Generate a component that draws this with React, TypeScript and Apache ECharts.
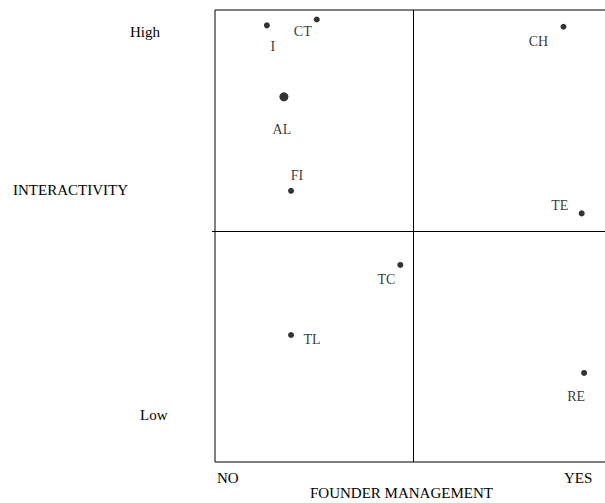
import React, { useEffect, useRef } from "react";
import * as echarts from "echarts";

// Data (x: founder management 0=NO..100=YES, y: interactivity 0=Low..100=High)
const names = ["I", "CT", "CH", "AL", "FI", "TE", "TC", "TL", "RE"];
const xValues = [13.1, 25.7, 88.0, 17.4, 19.2, 92.6, 46.8, 19.2, 93.2];
const yValues = [96.6, 97.9, 96.3, 80.8, 60.0, 55.0, 43.6, 28.1, 19.7];
const emphasized = ["AL"];

const xDivider = 50;
const yDivider = 51.0;

const xTickLabels = ["NO", "YES"];
const yTickLabels = ["High", "Low"];
const xAxisTitle = "FOUNDER MANAGEMENT";
const yAxisTitle = "INTERACTIVITY";

// label placement relative to each dot (pixels)
const labelOffsets: Record<string, [number, number]> = {
  I: [6, 21],
  CT: [-14, 12],
  CH: [-25, 15],
  AL: [-2, 33],
  FI: [6, -15],
  TE: [-22, -8],
  TC: [-14, 15],
  TL: [21, 5],
  RE: [-8, 24],
};

const FONT = "'Liberation Serif', 'Times New Roman', serif";

export default function App() {
  const ref = useRef<HTMLDivElement>(null);
  useEffect(() => {
    if (!ref.current) return;
    const chart = echarts.init(ref.current, undefined, { renderer: "svg" });
    const data = names.map((n, i) => ({
      name: n,
      value: [xValues[i], yValues[i]],
      symbolSize: emphasized.includes(n) ? 9 : 6,
      label: { offset: labelOffsets[n] },
    }));
    const textStyle = { fill: "#000", font: `15px ${FONT}` };
    chart.setOption({
      animation: false,
      backgroundColor: "#fff",
      grid: {
        left: 215,
        top: 10,
        right: 0,
        bottom: 41,
        show: true,
        borderColor: "#000",
        borderWidth: 1,
        backgroundColor: "transparent",
      },
      xAxis: {
        type: "value",
        min: 0,
        max: 100,
        axisLine: { show: false },
        axisTick: { show: false },
        axisLabel: { show: false },
        splitLine: { show: false },
      },
      yAxis: {
        type: "value",
        min: 0,
        max: 100,
        axisLine: { show: false },
        axisTick: {
          show: true,
          customValues: [yDivider],
          length: 3,
          lineStyle: { color: "#000", width: 1 },
        },
        axisLabel: { show: false },
        splitLine: { show: false },
      },
      series: [
        {
          type: "scatter",
          data,
          itemStyle: { color: "#000" },
          label: {
            show: true,
            position: "inside",
            formatter: "{b}",
            color: "#000",
            fontFamily: FONT,
            fontSize: 14,
          },
          markLine: {
            silent: true,
            symbol: "none",
            label: { show: false },
            lineStyle: { color: "#000", width: 1, type: "solid" },
            data: [{ xAxis: xDivider }, { yAxis: yDivider }],
          },
        },
      ],
      graphic: [
        { type: "text", left: 130, top: 24, style: { text: yTickLabels[0], ...textStyle } },
        { type: "text", left: 140, top: 407, style: { text: yTickLabels[1], ...textStyle } },
        { type: "text", left: 13, top: 182, style: { text: yAxisTitle, ...textStyle } },
        { type: "text", left: 217, top: 470, style: { text: xTickLabels[0], ...textStyle } },
        { type: "text", left: 564, top: 470, style: { text: xTickLabels[1], ...textStyle } },
        { type: "text", left: 310, top: 485, style: { text: xAxisTitle, ...textStyle } },
      ],
    });
    return () => chart.dispose();
  }, []);
  return (
    <div style={{ width: 605, height: 503, position: "absolute", left: 0, top: 0, overflow: "hidden" }}>
      <div ref={ref} style={{ width: 611, height: 503 }} />
    </div>
  );
}
